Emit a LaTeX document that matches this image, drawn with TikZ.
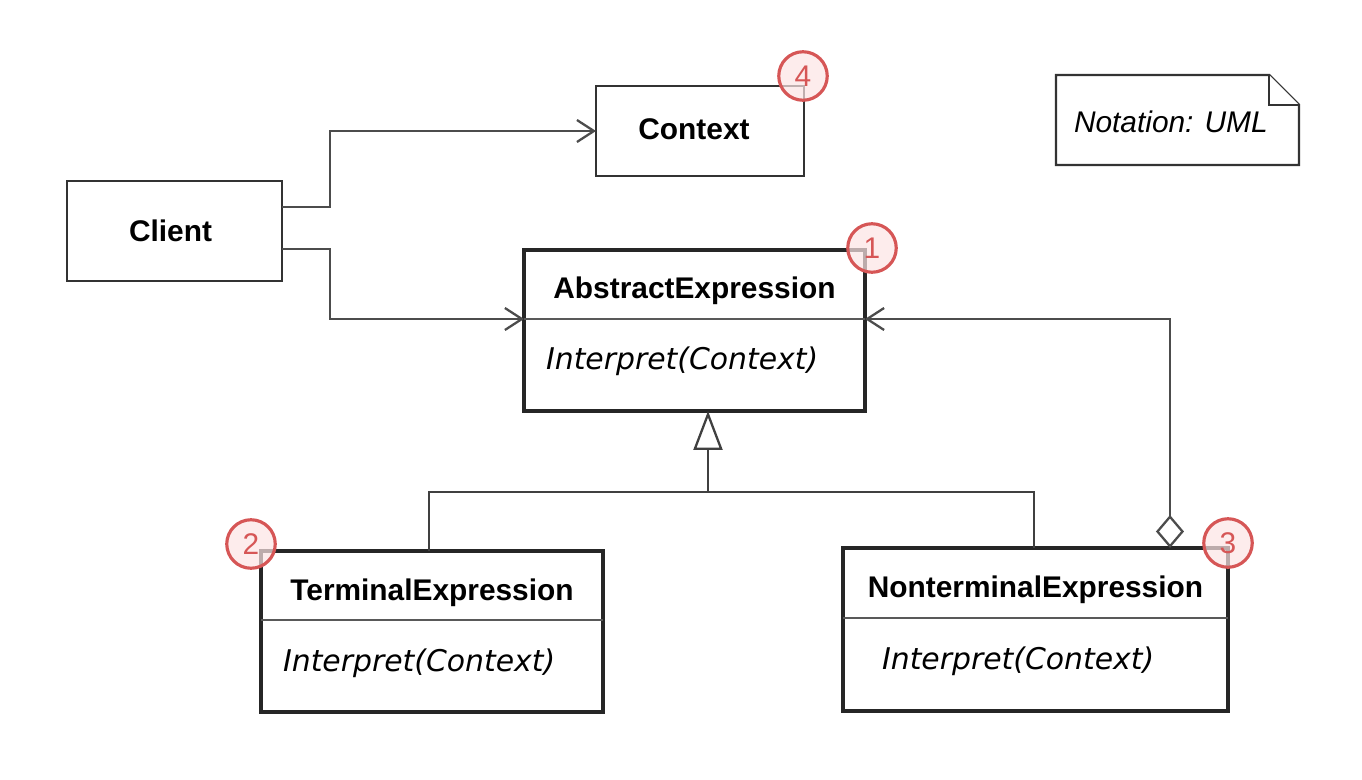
\documentclass[tikz,border=0pt]{standalone}
\usepackage{fontspec}
\setmainfont{Liberation Sans}
\newfontfamily\opfont{DejaVu Sans}
\usetikzlibrary{arrows.meta,fit}

\definecolor{markred}{RGB}{214,86,86}
\definecolor{markfill}{RGB}{252,228,228}

\begin{document}
\begin{tikzpicture}[
  x=0.02cm, y=-0.02cm,
  every node/.style={inner sep=0pt, outer sep=0pt},
  classbox/.style={draw=black!85, line width=1.8pt, fill=white},
  plainbox/.style={classbox, draw=black!80, line width=1.4pt},
  rule/.style={draw=black!65, line width=1.6pt},
  boxname/.style={font=\fontsize{17}{20}\selectfont\bfseries},
  classname/.style={boxname, anchor=base},
  operation/.style={font=\opfont\itshape\fontsize{17}{20}\selectfont, anchor=base west},
  notetext/.style={font=\itshape\fontsize{17}{20}\selectfont, anchor=base west},
  noteline/.style={draw=black!80, line width=1.4pt, fill=white},
  assoc/.style={draw=black!70, line width=1.3pt, -{Straight Barb[length=3.4mm,width=4.4mm]}},
  aggr/.style={draw=black!70, line width=1.3pt,
    {Diamond[open,fill=white,length=6.6mm,width=5.6mm]}-{Straight Barb[length=3.4mm,width=4.4mm]}},
  tree/.style={draw=black!75, line width=1.3pt},
  inherit/.style={tree, -{Triangle[open,fill=white,length=7.8mm,width=5.8mm]}},
  callmark/.style={circle, draw=markred, line width=1.8pt, fill=markfill, fill opacity=0.7,
    text opacity=1, text=markred, minimum size=0.97cm, font=\fontsize{17}{20}\selectfont}
]

\useasboundingbox (0,0) rectangle (1362,780);

% UML class: box, name compartment, operation compartment
\newcommand{\umlclass}[9]{%
  % #1 name  #2,#3 top left  #4,#5 bottom right  #6 rule y  #7 title  #8 operation  #9 operation x
  \coordinate (#1-nw) at (#2,#3);
  \coordinate (#1-se) at (#4,#5);
  \node[classbox, fit=(#1-nw)(#1-se)] (#1) {};
  \coordinate (#1-sep) at (#2,#6);
  \draw[rule] (#1-sep) -- (#1-sep -| #1.east);
  \node[classname] (#1-title) at ({(#2+#4)/2},#3+49) {#7};
  \node[operation] (#1-op) at (#9,#6+51) {#8};
}

% numbered marker over a corner
\newcommand{\callout}[4]{%
  % #1 name  #2,#3 centre  #4 number
  \node[callmark] (#1) at (#2,#3) {#4};
}

% plain classes
\node[plainbox, minimum width=4.3cm, minimum height=2cm] (client) at (174.5,231) {};
\node[boxname] (client-title) at (170.5,231) {Client};
\node[plainbox, minimum width=4.16cm, minimum height=1.8cm] (context) at (700,131) {};
\node[boxname] (context-title) at (694,129) {Context};

% expression hierarchy
\umlclass{abs}{524}{250}{865}{411}{319}{AbstractExpression}{Interpret(Context)}{546}
\umlclass{te}{261}{551}{603}{712}{620}{TerminalExpression}{Interpret(Context)}{283}
\umlclass{nt}{843}{548}{1228}{711}{618}{NonterminalExpression}{Interpret(Context)}{882}

% note
\draw[noteline] (1056,75) -- (1269,75) -- (1299,105) -- (1299,165) -- (1056,165) -- cycle;
\draw[noteline] (1269,75) |- (1299,105);
\node[notetext] (note) at (1074,133) {Notation: UML};

% associations from the client
\draw[assoc] ([yshift=0.48cm]client.east) -- ++(48,0) |- (context.west);
\draw[assoc] ([yshift=-0.36cm]client.east) -- ++(48,0) |- (abs-sep);

% generalisation
\coordinate (fork) at (708,492);
\draw[tree] ([xshift=-0.06cm]te.north) |- (fork) -| ([xshift=-0.03cm]nt.north);
\draw[inherit] (fork) -- (fork |- abs.south);

% aggregation back to the abstract class
\draw[aggr] ([xshift=2.69cm]nt.north) |- (abs-sep -| abs.east);

% markers
\callout{m1}{872}{248}{1}
\callout{m2}{251}{544}{2}
\callout{m3}{1228}{543}{3}
\callout{m4}{803}{76}{4}

\end{tikzpicture}
\end{document}
